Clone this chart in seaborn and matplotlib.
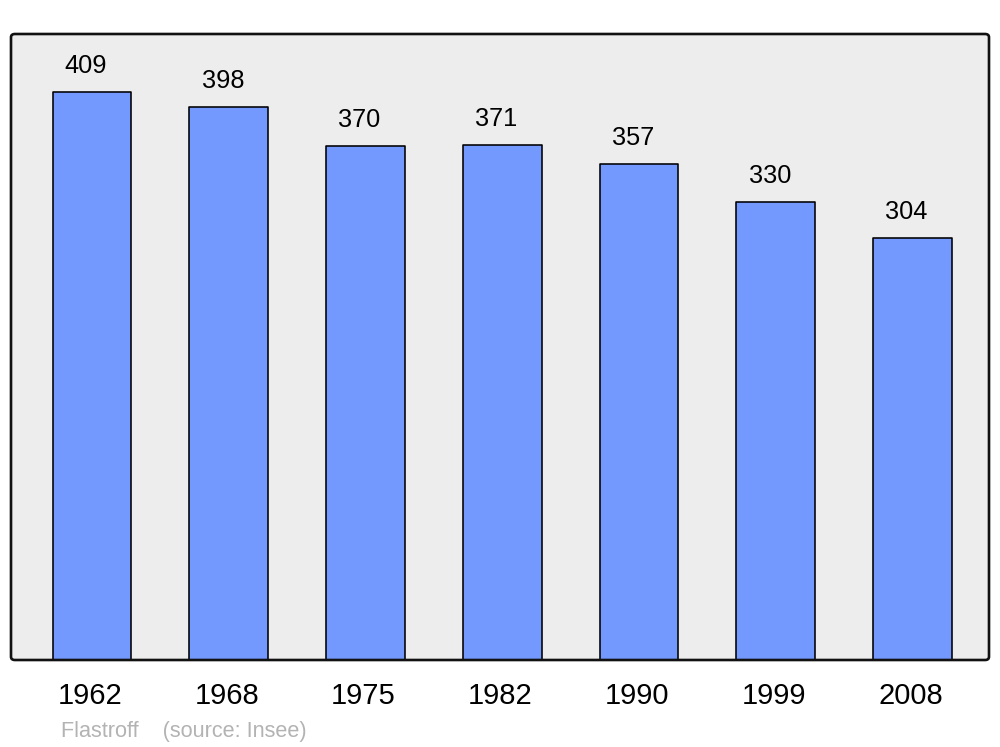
import matplotlib
matplotlib.use("Agg")
import matplotlib.pyplot as plt
import matplotlib.transforms as mtransforms
from matplotlib.patches import FancyBboxPatch
import seaborn as sns
import pandas as pd

years = ["1962", "1968", "1975", "1982", "1990", "1999", "2008"]
population = [409, 398, 370, 371, 357, 330, 304]
footer = "Flastroff    (source: Insee)"

sns.set_theme(style="white")
plt.rcParams["font.family"] = ["Liberation Sans", "DejaVu Sans"]

df = pd.DataFrame({"year": years, "pop": population})

fig = plt.figure(figsize=(10, 7.47), dpi=100)
ax = fig.add_axes([0.011, 87 / 747, 0.978, 626 / 747])
ax.set_facecolor("none")

sns.barplot(data=df, x="year", y="pop", color="#7399FF", saturation=1,
            width=0.575, edgecolor="black", linewidth=1.15, ax=ax, zorder=2)
for p in ax.patches:
    p.set_joinstyle("round")

for i, v in enumerate(population):
    ax.annotate(str(v), (i, v), xytext=(-4.3, 13.5), textcoords="offset points",
                ha="center", va="baseline", fontsize=18.3, color="black")

ax.set_xlim(-0.592, 6.559)
ax.set_ylim(0, 450.7)
ax.set_yticks([])
ax.set_xlabel("")
ax.set_ylabel("")
ax.tick_params(axis="x", length=0, pad=16, labelsize=21, colors="black")
shift = mtransforms.ScaledTranslation(-2 / 100, 0, fig.dpi_scale_trans)
for lbl in ax.get_xticklabels():
    lbl.set_transform(lbl.get_transform() + shift)
for s in ax.spines.values():
    s.set_visible(False)

bg = FancyBboxPatch((0, 0), 1, 1, boxstyle="round,pad=0,rounding_size=0.004",
                    transform=ax.transAxes, facecolor="#EDEDED", edgecolor="none",
                    zorder=0.5, clip_on=False, mutation_aspect=1.3)
ax.add_patch(bg)
frame = FancyBboxPatch((0, 0), 1, 1, boxstyle="round,pad=0,rounding_size=0.004",
                       transform=ax.transAxes, facecolor="none", edgecolor="#111111",
                       linewidth=1.9, zorder=3, clip_on=False, mutation_aspect=1.3)
ax.add_patch(frame)

fig.text(0.061, (747 - 737) / 747, footer, fontsize=15.6, color="#B3B3B3",
         ha="left", va="baseline")

fig.savefig("out.png", dpi=100, facecolor="white")
